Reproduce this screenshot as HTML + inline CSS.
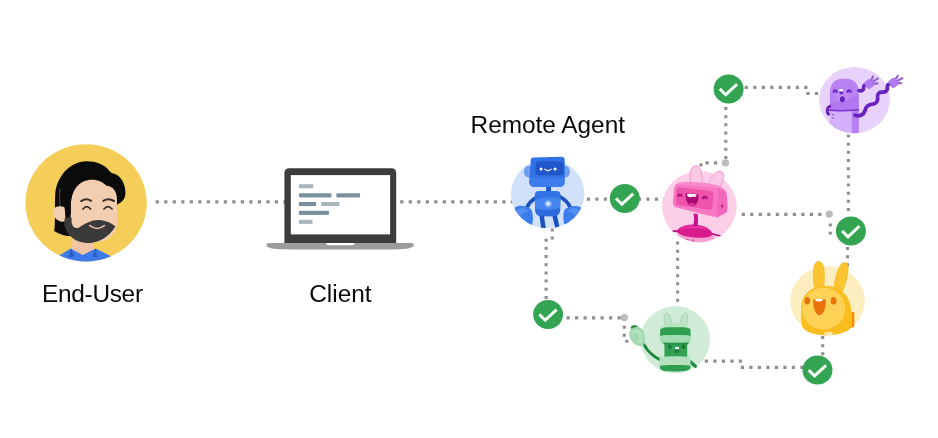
<!DOCTYPE html>
<html lang="en">
<head>
<meta charset="utf-8">
<title>A2A – End-User, Client, Remote Agent</title>
<style>
  html, body { margin: 0; padding: 0; background: #ffffff; }
  body { width: 938px; height: 438px; overflow: hidden; }
  svg { display: block; }
  .lbl { font-family: "Liberation Sans", sans-serif; font-size: 24.4px; fill: #0a0a0a; }
  #labels { filter: grayscale(1); }
  .dot { fill: none; stroke: #8f8f8f; }
  .h { stroke-width: 3.2; }
  .v { stroke-width: 3.1; }
  .h { stroke-dasharray: 3.2 5.31; }
  .v { stroke-dasharray: 3 5.17; }
  .node { fill: #bdbdbd; }
</style>
</head>
<body>
<svg width="938" height="438" viewBox="0 0 938 438">
  <defs>
    <filter id="soft" x="0" y="0" width="938" height="438" filterUnits="userSpaceOnUse" color-interpolation-filters="sRGB">
      <feGaussianBlur stdDeviation="0.32"/>
    </filter>
  </defs>
  <rect width="938" height="438" fill="#ffffff"/>

  <g id="art" filter="url(#soft)">
  <!-- ============ CONNECTORS ============ -->
  <g id="connectors">
    <!-- user -> client -->
    <path class="dot h" d="M155.7 201.8H287"/>
    <!-- client -> remote agent -->
    <path class="dot h" d="M400.2 201.8H514"/>
    <!-- remote agent -> pink -->
    <path class="dot h" d="M586.8 199.1H664"/>
    <!-- remote agent down to check -->
    <path class="dot v" d="M552.3 228.4V240"/>
    <path class="dot v" d="M546.1 238.7V302"/>
    <!-- check -> green -->
    <path class="dot h" d="M566.5 317.8H622"/>
    <path class="dot v" d="M624.3 325.7V337"/>
    <rect x="625.2" y="339.7" width="3.2" height="3" fill="#8f8f8f"/>
    <!-- top check -> purple -->
    <path class="dot h" d="M744.7 87.4H808"/>
    <path class="dot h" d="M806.4 93.5H820"/>
    <!-- top check down to pink -->
    <path class="dot v" d="M725.8 107V160"/>
    <path class="dot h" d="M717.2 162.9H704"/>
    <rect x="699.3" y="163.4" width="3.2" height="3" fill="#8f8f8f"/>
    <!-- pink -> right node -->
    <path class="dot h" d="M741.7 214.3H823"/>
    <path class="dot v" d="M830.3 223.6V236"/>
    <!-- purple down to check -->
    <path class="dot v" d="M848.4 134.5V214"/>
    <!-- check down to yellow -->
    <path class="dot v" d="M847.5 247V267"/>
    <!-- pink down to green -->
    <path class="dot v" d="M677.6 241.5V303"/>
    <!-- green -> bottom check -->
    <path class="dot h" d="M704.8 361.2H743"/>
    <path class="dot h" d="M740.8 367.4H805"/>
    <!-- yellow down to bottom check -->
    <path class="dot v" d="M822.7 336V357"/>
    <!-- junction nodes -->
    <ellipse class="node" cx="624.3" cy="317.6" rx="3.7" ry="3.6"/>
    <ellipse class="node" cx="725.5" cy="162.9" rx="3.7" ry="3.6"/>
    <ellipse class="node" cx="829.2" cy="214.1" rx="3.7" ry="3.6"/>
  </g>

  <!-- ============ CHECK MARKS ============ -->
  <defs>
    <g id="check">
      <ellipse cx="0" cy="0" rx="15" ry="14.5" fill="#32a452"/>
      <path d="M-8.8 0L-2.9 5.8L8.5 -4.8" fill="none" stroke="#f6fff6" stroke-width="3"/>
    </g>
  </defs>
  <use href="#check" x="728.6" y="88.9"/>
  <use href="#check" x="624.8" y="198.4"/>
  <use href="#check" x="850.9" y="231"/>
  <use href="#check" x="548.1" y="314.4"/>
  <use href="#check" x="817.5" y="370.1"/>

  <!-- ============ LABELS ============ -->
  <g id="labels">
  <text class="lbl" x="42.1" y="302" letter-spacing="-0.3">End-User</text>
  <text class="lbl" x="309.2" y="301.8" letter-spacing="0">Client</text>
  <text class="lbl" x="470.6" y="132.7" letter-spacing="-0.02">Remote Agent</text>
  </g>

  <!-- ============ END USER ============ -->
  <g id="user">
    <clipPath id="uclip"><ellipse cx="86.1" cy="202.9" rx="60.7" ry="58.6"/></clipPath>
    <ellipse cx="86.1" cy="202.9" rx="60.7" ry="58.6" fill="#f5ce5a"/>
    <g clip-path="url(#uclip)">
      <!-- shirt -->
      <path d="M55 263L59.2 255.4L70.8 248.4L82.7 254.8L95.5 248.4L111.2 256.2L115 263Z" fill="#3c7be9"/>
      <path d="M70.8 248.6L74.6 256.2L69 257.4Z" fill="#2a5cc4"/>
      <path d="M95.5 248.6L92.4 256.4L97.4 257.4Z" fill="#2a5cc4"/>
      <!-- neck -->
      <path d="M72.6 234H94V249.2L82.7 254.8L72 249Z" fill="#f0c5a6"/>
      <!-- hair back -->
      <path d="M54.2 231.4C55.6 226 54.6 205 55.2 195C56 178 69 161.2 86.4 161.2C96 161.2 104 164.4 108.4 169.7C110 171.6 111 172.8 112.4 173.2C119.4 174 126 183 125.4 194C125 198.6 122.6 201.6 119.4 203.2L70 236C65 236 59 234 55.3 231.5Z" fill="#0b0b0b"/>
      <!-- face -->
      <path d="M70.6 206C70.2 190 80 179.8 92 179.8C98.6 179.8 103 182.4 106.6 185.8C112 186 117 190.4 117 200V222C117 234 108 242 96 242C82 242 70.6 234 70.6 222Z" fill="#f3cdb0"/>
      <!-- hair front lock over left side -->
      <path d="M58 204C58 190 64 182 74 178L80 182C74 188 71 196 70.8 206V214L64 221Z" fill="#0b0b0b"/>
      <path d="M59.9 188.5C59.5 195 59.6 201 60 206" fill="none" stroke="#8a8f94" stroke-width="0.55"/>
      <!-- ear -->
      <path d="M59.8 206.3C55.2 206.2 52.2 209.6 52.7 213C53.4 216.8 56.4 220 60.4 221.4C62.4 222 64.2 221.8 65.3 221C65.5 216 65.1 211 64.4 207.2C63 206.6 61.4 206.3 59.8 206.3Z" fill="#f3cdb0"/>
      <!-- eyebrows -->
      <path d="M81.2 201.2Q86 197.6 91 200.8" fill="none" stroke="#35302c" stroke-width="2.1" stroke-linecap="round"/>
      <path d="M103.4 200.8Q108.6 197.6 114 201" fill="none" stroke="#35302c" stroke-width="2.1" stroke-linecap="round"/>
      <!-- eyes -->
      <path d="M83 209Q86.8 204.4 90.6 209" fill="none" stroke="#35302c" stroke-width="1.7" stroke-linecap="round"/>
      <path d="M104 209Q107.8 204.4 112 209" fill="none" stroke="#35302c" stroke-width="1.7" stroke-linecap="round"/>
      <!-- beard -->
      <path d="M64.6 218.4C66.4 217 69.4 216.8 71.6 217.8V222C72 227.2 76 229.4 79.6 227.2C85 223.4 92 220 98 220C104 220 110.6 222.4 115.4 226.4C112 231.8 107.4 236.8 100.4 240.2C95 242.8 88 243.6 83 242.6C75 241 67 236 64.2 225Z" fill="#3a3a3a"/>
      <!-- smile -->
      <path d="M89.6 225.4Q97 231.6 104.6 225.4" fill="none" stroke="#f1b9b0" stroke-width="1.4" stroke-linecap="round"/>
    </g>
  </g>
  <!-- ============ CLIENT LAPTOP ============ -->
  <g id="laptop">
    <path d="M284.4 243.4V173.2Q284.4 168.2 289.4 168.2H391.2Q396.2 168.2 396.2 173.2V243.4Z" fill="#3c3c3c"/>
    <rect x="290.8" y="175.1" width="99.3" height="59.3" fill="#ffffff"/>
    <path d="M266.4 245.2C266.4 243.8 267.4 243 269 243H411.2C412.8 243 413.8 243.8 413.8 245.2C413.8 247 410 248.4 404 248.9C399 249.3 394 249.4 390 249.4H290C286 249.4 281 249.3 276 248.9C270 248.4 266.4 247 266.4 245.2Z" fill="#9c9c9c"/>
    <path d="M326.2 243H354.7Q354.7 245.2 351.5 245.2H329.4Q326.2 245.2 326.2 243Z" fill="#ffffff"/>
    <rect x="299" y="184.2" width="14.2" height="4.1" fill="#a9b5ba"/>
    <rect x="299" y="193.3" width="32.4" height="4.1" fill="#78909c"/>
    <rect x="336.4" y="193.3" width="23.6" height="4.1" fill="#78909c"/>
    <rect x="299" y="202" width="17.1" height="4.1" fill="#78909c"/>
    <rect x="321.2" y="202" width="18.2" height="4.1" fill="#a9b5ba"/>
    <rect x="299" y="210.8" width="29.9" height="4.1" fill="#78909c"/>
    <rect x="299" y="219.8" width="13.5" height="4.1" fill="#a9b5ba"/>
  </g>
  <!-- ============ BLUE ROBOT ============ -->
  <g id="blue">
    <clipPath id="bclip"><ellipse cx="547.7" cy="193.7" rx="36.8" ry="34.6"/></clipPath>
    <radialGradient id="bglow" cx="0.5" cy="0.5" r="0.5">
      <stop offset="0" stop-color="#ffffff"/>
      <stop offset="0.35" stop-color="#cfe0ff" stop-opacity="0.85"/>
      <stop offset="1" stop-color="#5a93f2" stop-opacity="0"/>
    </radialGradient>
    <ellipse cx="547.7" cy="193.7" rx="36.8" ry="34.6" fill="#d2e1fb"/>
    <g clip-path="url(#bclip)">
      <!-- arms -->
      <path d="M536.4 197.6C531.4 200 528.4 203.6 526.4 208.4" fill="none" stroke="#1c51bd" stroke-width="3.8" stroke-linecap="round"/>
      <path d="M559.6 196.6C564.6 199 568.4 203 570.6 208" fill="none" stroke="#1c51bd" stroke-width="3.8" stroke-linecap="round"/>
      <!-- hands -->
      <path d="M515 207.5C519 204.6 527.5 205.6 531.2 209.5C533.5 214 533.4 221 531.5 226.5L522 232L512 215Z" fill="#3b7dea"/>
      <path d="M580.8 207.5C576.5 204.8 568 205.8 564.6 209.8C562.6 214 563.2 221 564.8 226.5L574 232L584 215Z" fill="#3b7dea"/>
      <path d="M517 209C521 207.5 526 208.5 528.5 211C524 212 520.5 214.5 518.5 218Z" fill="#5f97f3" opacity="0.7"/>
      <path d="M578.6 209C574.6 207.5 569.6 208.5 567.4 211C571.5 212 575 214.5 577 218Z" fill="#5f97f3" opacity="0.7"/>
      <!-- legs -->
      <path d="M541.4 214L543.6 229" fill="none" stroke="#1c51bd" stroke-width="4.5"/>
      <path d="M554.2 214L557.8 229" fill="none" stroke="#1c51bd" stroke-width="4.5"/>
    </g>
    <!-- neck -->
    <rect x="546.1" y="185" width="4.9" height="7.5" fill="#1f57c6"/>
    <!-- body -->
    <path d="M538.6 191.1H556.6C559.4 191.1 560.6 193.1 560.6 196L560.2 209.5C560 213.8 557.6 216.2 553.5 216.2H541.6C537.6 216.2 535.3 213.8 535.1 209.5L534.6 196C534.6 193.1 536 191.1 538.6 191.1Z" fill="#3273e6"/>
    <path d="M534.8 200C543 196.5 552 196.5 560.5 198.5L560.2 207.5C552 210.5 543 210 535.1 208.5Z" fill="#4a8af0" opacity="0.75"/>
    <path d="M535.1 209.5C543 211 552 211 560.2 208.5V209.5C560 213.8 557.6 216.2 553.5 216.2H541.6C537.6 216.2 535.3 213.8 535.1 209.5Z" fill="#2b66d8" opacity="0.8"/>
    <ellipse cx="548.2" cy="203.8" rx="5.2" ry="5" fill="url(#bglow)"/>
    <!-- ears -->
    <ellipse cx="528.6" cy="171.6" rx="4.8" ry="5.8" fill="#6f9df0"/>
    <ellipse cx="565.8" cy="171.6" rx="4.2" ry="5.8" fill="#6f9df0"/>
    <!-- head -->
    <path d="M533.6 157.6L561.6 156.7C563.6 156.6 564.6 157.8 564.7 159.6L564.6 182.6C564.4 185.6 562.6 187 559.8 187H534.4C531.4 187 529.6 185.6 529.4 182.6L530.7 160.4C530.8 158.6 531.8 157.7 533.6 157.6Z" fill="#3071e5"/>
    <path d="M529.5 177C541 179 554 179 564.6 177.4L564.6 182.6C564.4 185.6 562.6 187 559.8 187H534.4C531.4 187 529.6 185.6 529.4 182.6Z" fill="#3d7eeb"/>
    <rect x="535.6" y="161.6" width="28.4" height="13.6" rx="3.4" ry="3.4" fill="#2158c9"/>
    <ellipse cx="541.1" cy="169" rx="1.55" ry="1.5" fill="#ffffff"/>
    <ellipse cx="555.1" cy="169" rx="1.55" ry="1.5" fill="#ffffff"/>
    <path d="M544.6 169.2Q547.9 172 551.2 169.2" fill="none" stroke="#ffffff" stroke-width="1.1" stroke-linecap="round"/>
  </g>
  <!-- ============ PINK ROBOT ============ -->
  <g id="pink">
    <clipPath id="pclip"><ellipse cx="699.4" cy="206.6" rx="37.3" ry="35.6"/></clipPath>
    <ellipse cx="699.4" cy="206.6" rx="37.3" ry="35.6" fill="#fccee7"/>
    <!-- ears -->
    <path d="M691.2 186C689.4 178 689.6 169.5 693.2 166.6C696.6 164 700 167 701.2 172C702.2 177 702.2 182 701.8 186.5Z" fill="#fbc9e5" stroke="#f48cc8" stroke-width="0.9"/>
    <path d="M707.6 187C709.4 180 713.4 173.6 717.6 171.6C721.4 170 724 172.6 723.6 176.6C722.8 181.6 720.6 186.6 718.2 190.5Z" fill="#fbc9e5" stroke="#f48cc8" stroke-width="0.9"/>
    <g clip-path="url(#pclip)">
      <!-- base shadow band -->
      <path d="M676 234.5C680 240.5 690 243.5 699 243.5C707 243.5 712 241.5 714.5 237.5L712 234Z" fill="#f59fd3"/>
      <ellipse cx="687.6" cy="240" rx="1.2" ry="0.9" fill="#e0409f"/>
      <ellipse cx="692.8" cy="240.5" rx="1.2" ry="0.9" fill="#e0409f"/>
      <!-- base arms -->
      <path d="M679 230.8L672.2 231.4" fill="none" stroke="#b5127f" stroke-width="1.8" stroke-linecap="round"/>
      <path d="M711 233.6L720.6 236" fill="none" stroke="#b5127f" stroke-width="1.8" stroke-linecap="round"/>
      <!-- base -->
      <path d="M676.6 231.6C678.6 226.6 686 224.2 694 224.4C702 224.6 709.6 227.6 712.4 233.2C712.8 236.4 707 238.2 698 237.8C688 237.4 678.6 235.4 676.6 231.6Z" fill="#d81b8c"/>
      <path d="M679 229.4C682.6 226 689.6 225 696 225.4C701.6 225.8 706.6 227.4 709.6 230.2C703 228.6 690 227.4 679 229.4Z" fill="#ea3aa3" opacity="0.8"/>
    </g>
    <!-- neck -->
    <path d="M693.4 213.5C694.6 218 694.2 222 693 226.2L697.4 226.4C698.2 222 698.2 218 697.6 214Z" fill="#c2158a"/>
    <!-- head top face -->
    <path d="M674.4 187.4C675 184 678 182.6 682 182.3C694 181.4 708 182.6 718 185.4C722 186.6 725.4 189.4 726.8 193L718 190.4L676 186.4Z" fill="#f989ca"/>
    <!-- head side -->
    <path d="M717.9 188.6Q718.0 187.6 718.9 188.1L724.2 191.1Q726.8 192.6 726.9 195.6L727.5 209.0Q727.6 212.0 724.8 213.6L716.7 217.6Q715.8 218 715.9 217Z" fill="#f267b8"/>
    <ellipse cx="722.2" cy="206.2" rx="0.9" ry="1.6" fill="#b5127f"/>
    <!-- head front -->
    <path d="M674.2 188.5Q674.5 184.5 678.5 184.8L716.4 187.7Q718.9 187.9 718.7 190.4L716.5 214.4Q716.2 217.4 713.3 216.7L676.5 207.5Q672.6 206.6 672.9 202.6Z" fill="#f777c2"/>
    <!-- screen -->
    <path d="M676.5 190.6Q676.8 187.2 680.2 187.6L710.2 191.0Q713.6 191.4 713.3 194.8L712.5 206.8Q712.2 210.2 708.8 209.7L678.8 205.1Q675.4 204.6 675.7 201.2Z" fill="#ee54ab"/>
    <!-- eyes -->
    <path d="M678.4 195.8Q679.9 193.2 681.6 195.6" fill="none" stroke="#b5127f" stroke-width="2.5" stroke-linecap="round"/>
    <path d="M703 198Q704.7 195.4 706.6 198" fill="none" stroke="#b5127f" stroke-width="2.5" stroke-linecap="round"/>
    <!-- mouth -->
    <path d="M685.4 193.6C689.4 192.8 694.6 193.2 698.6 194.8C698.6 200.6 696.6 206.2 692.2 206.2C688 206.2 685.4 200.4 685.4 193.6Z" fill="#ad0a74"/>
    <path d="M687 194C689.8 193.5 693.6 193.7 696.4 194.6L696.2 196.4C695 197 693.6 197 692.6 196.6C691.4 197.4 689.6 197.4 688.2 196.8C687.6 196.4 687.2 196 687 195.6Z" fill="#ffffff"/>
    <path d="M688.8 203.8C690.4 202.4 693.6 202.6 695 204.2C694.2 205.6 693.2 206.2 692.2 206.2C690.8 206.2 689.6 205.2 688.8 203.8Z" fill="#d63a98"/>
  </g>
  <!-- ============ PURPLE ============ -->
  <g id="purple">
    <clipPath id="vclip"><ellipse cx="854.5" cy="100.1" rx="35.4" ry="33.1"/></clipPath>
    <ellipse cx="854.5" cy="100.1" rx="35.4" ry="33.1" fill="#e7d2fc"/>
    <g clip-path="url(#vclip)">
      <!-- lower body -->
      <rect x="829.8" y="108" width="29" height="30" fill="#d3b0f9"/>
      <rect x="851.8" y="108" width="7" height="30" fill="#b780f3"/>
      <!-- upper body -->
      <path d="M829.9 110.4V92.4C829.9 83.6 835 78.8 842 78.8H846.6C853.6 78.8 858.6 83.6 858.6 92.4V111Z" fill="#b982f4"/>
      <path d="M829.8 104C838 103 850 100 858.8 94V111L829.8 110.4Z" fill="#ae74f0" opacity="0.8"/>
      <!-- belt / arm -->
      <path d="M828.4 110.2C838 111 850 110.6 858.6 109.8" fill="none" stroke="#7a2fd0" stroke-width="1.6"/>
      <path d="M829.8 106.4C827 107.6 826.2 111.4 828.6 114.2" fill="none" stroke="#6a22bf" stroke-width="3" stroke-linecap="round"/>
      <ellipse cx="833" cy="114.8" rx="0.7" ry="0.8" fill="#6a22bf"/>
      <ellipse cx="833" cy="118" rx="0.7" ry="0.8" fill="#6a22bf"/>
    </g>
    <!-- face -->
    <ellipse cx="842" cy="96.4" rx="6.4" ry="5.6" fill="#c596f7" opacity="0.55"/>
    <path d="M833.6 91.8Q834.9 88.8 836.6 91.8" fill="none" stroke="#6a22bf" stroke-width="2.1" stroke-linecap="round"/>
    <path d="M847.6 91.8Q849.1 88.8 850.8 91.8" fill="none" stroke="#6a22bf" stroke-width="2.1" stroke-linecap="round"/>
    <ellipse cx="841.4" cy="92.7" rx="2" ry="1.6" fill="#6a22bf"/>
    <ellipse cx="841.2" cy="90.2" rx="2.2" ry="1.2" fill="#ffffff"/>
    <ellipse cx="842.4" cy="99.2" rx="2.5" ry="3" fill="#6a22bf"/>
    <!-- cable 1 -->
    <path d="M859 90.6C862.4 91.6 863.8 89.4 863.6 87.4C863.4 85.2 865.4 84 868 84.4" fill="none" stroke="#6a22bf" stroke-width="3.6" stroke-linecap="round"/>
    <!-- plug 1 -->
    <path d="M870.6 81.4L873 76.6M872 82.4L877.8 78.4M872 84.2L877.4 83.4" fill="none" stroke="#9565d8" stroke-width="2.3" stroke-linecap="round"/>
    <rect x="-4" y="-4.3" width="8" height="8.6" rx="2.4" transform="translate(869.2 84) rotate(-35)" fill="#b07af0"/>
    <!-- cable 2 -->
    <path d="M855 115.2C860 116.8 863.8 114.6 865 110.6C866 106.4 868.6 104.4 872.6 104.2C876.6 103.8 878.2 100.6 877.6 97C877.2 93.4 879.6 91.8 883 92.2C886.4 92.4 887.8 89.8 887.4 87C887.2 85 888.8 84 890.6 83.8" fill="none" stroke="#6a22bf" stroke-width="3.8" stroke-linecap="round"/>
    <!-- plug 2 -->
    <path d="M894.8 80.2L897.8 75.8M896.2 81.4L902.2 78.2M896.2 83.2L901 83.2" fill="none" stroke="#9565d8" stroke-width="2.3" stroke-linecap="round"/>
    <rect x="-4.1" y="-4.4" width="8.2" height="8.8" rx="2.4" transform="translate(893.4 82.8) rotate(-35)" fill="#b07af0"/>
  </g>
  <!-- ============ YELLOW ============ -->
  <g id="yellow">
    <clipPath id="yclip"><ellipse cx="827.6" cy="300.8" rx="37.3" ry="34.7"/></clipPath>
    <ellipse cx="827.6" cy="300.8" rx="37.3" ry="34.7" fill="#fdeec0"/>
    <!-- ears -->
    <path d="M815 289C813 281 812.6 269.6 814.8 264.4C816.6 260.4 821 260.6 822.8 264.8C824.8 270 824.6 281 823.4 289Z" fill="#fbc531" stroke="#f6b81c" stroke-width="0.8"/>
    <path d="M834 289.6C834.6 281 837 270 840.6 265C843.2 261.4 847.2 262 848 266C848.8 271.6 845.8 283 842.2 291.6Z" fill="#fbc531" stroke="#f6b81c" stroke-width="0.8"/>
    <!-- backpack -->
    <path d="M850 312.4L853 311.8C854 311.8 854.4 312.4 854.4 313.4V325.6C854.4 326.8 853.8 327.4 852.8 327.6L849 328Z" fill="#ef9207"/>
    <!-- body -->
    <path d="M801.2 309C801 295 811 286 824.6 286C838 286 848 293 850.4 305C852 313 852.4 321 851.6 327C848 332 838 335.2 826 335.2C814 335.2 805 332 802 326C801 320 801.2 314 801.2 309Z" fill="#f9bd1e"/>
    <!-- face highlight -->
    <ellipse cx="823.6" cy="308.6" rx="21.6" ry="21" fill="#fdd257"/>
    <path d="M803 322C810 329.5 824 331.5 836 328C842 326 848 321 850.6 316C852 320 852 324 851.6 327C848 332 838 335.2 826 335.2C814 335.2 805 332 802 326Z" fill="#f9bd1e" opacity="0.85"/>
    <!-- bottom highlight -->
    <path d="M824.4 332H832.6V335.4H824.4Z" fill="#fde9b6" opacity="0.9"/>
    <!-- eyes -->
    <ellipse cx="807.3" cy="300.8" rx="2.8" ry="3.8" fill="#e8710a"/>
    <ellipse cx="833.6" cy="300.8" rx="2.9" ry="3.8" fill="#e8710a"/>
    <!-- mouth -->
    <path d="M813.2 299.6C817 298.6 822 298.6 825.8 299.6C826 306 824.2 315.2 819.4 315.2C814.8 315.2 812.8 306 813.2 299.6Z" fill="#e8710a"/>
    <path d="M815.2 299.2C817.6 298.7 820.6 298.7 822.8 299.2L822.6 300.8C820.6 301.6 817.6 301.6 815.4 300.8Z" fill="#ffffff"/>
  </g>
  <!-- ============ GREEN ============ -->
  <g id="green">
    <clipPath id="gclip"><ellipse cx="675.3" cy="339.7" rx="34.8" ry="33.6"/></clipPath>
    <ellipse cx="675.3" cy="339.7" rx="34.8" ry="33.6" fill="#d0ebd7"/>
    <!-- arm left -->
    <path d="M644 344.6C647.4 351 652.6 356.2 660 359.6" fill="none" stroke="#1f8a3e" stroke-width="3" stroke-linecap="round"/>
    <!-- arm right -->
    <path d="M690 361.6L695.4 366.2" fill="none" stroke="#1f8a3e" stroke-width="3.3" stroke-linecap="round"/>
    <!-- hand -->
    <path d="M632 327.6C633.4 326 635.6 326 636.8 327.6" fill="none" stroke="#1f8a3e" stroke-width="2.6" stroke-linecap="round"/>
    <path d="M630 330.6C632 326.6 639.6 325.6 642.6 329.6C645.2 333.6 645.6 341 643.8 345.2C641 346.8 636.4 346 633.4 343C630 339.4 628.2 334.4 630 330.6Z" fill="#a2d6af"/>
    <path d="M631.6 331.6C633.6 328.6 638.6 328.2 641 331.2C643 334.4 643.4 339.6 642 343C639.6 344 636.4 343.2 634.2 340.8C631.6 338 630.4 334.2 631.6 331.6Z" fill="#b4e3bf"/>
    <ellipse cx="636" cy="337" rx="3" ry="4.2" transform="rotate(-18 636 337)" fill="#a4d9b1"/>
    <!-- ears -->
    <path d="M665.6 325.6C663.6 320.6 663.4 315.4 665.6 313.4C667.8 311.8 671 316 672.2 324.6Z" fill="#bee4c8" stroke="#9fd0ab" stroke-width="0.8"/>
    <path d="M679.6 324.6C681 316 684 311.6 686.2 313.4C688.4 315.4 688 320.6 686 325.6Z" fill="#bee4c8" stroke="#9fd0ab" stroke-width="0.8"/>
    <!-- cap -->
    <path d="M660.6 330C661.4 325.4 667 322.8 675.4 322.8C683.8 322.8 689.6 325.4 690.4 330V341.6H660.6Z" fill="#b4e4c0"/>
    <path d="M660.2 329.6C662 327 668 327.2 675.4 327.2C683 327.2 689 327 690.5 329.6L690.7 336.2C685 335 666 335 660 336.2Z" fill="#2fa04f"/>
    <path d="M660 335.9C666 334.8 685 334.8 690.7 335.9L690.8 341.8C685 343.8 666 343.8 659.8 341.8Z" fill="#a4dcb2"/>
    <!-- body -->
    <rect x="664.4" y="342.6" width="22.8" height="16" fill="#33a353"/>
    <path d="M661.6 342C668 344 683 344 689.6 342L687.4 344.6H664.6Z" fill="#1f8a3e"/>
    <ellipse cx="669.8" cy="346.9" rx="1.9" ry="2.1" fill="#1b7a38"/>
    <ellipse cx="683.4" cy="346.9" rx="1.9" ry="2.1" fill="#1b7a38"/>
    <ellipse cx="677" cy="350" rx="2.3" ry="3" fill="#1b7a38"/>
    <rect x="675" y="347" width="4" height="2.2" rx="0.6" fill="#ffffff"/>
    <!-- bottom bands -->
    <path d="M659.6 357.4C666 356 685 356 690.6 357.4V366.4H659.6Z" fill="#b4e2be"/>
    <path d="M659.8 365.8C666 364.8 685 364.8 690.4 365.8V367.6C690.4 369.6 688 370.6 685 371C680 371.6 670 371.6 665 371C662 370.6 659.8 369.6 659.8 367.6Z" fill="#2e9e4e"/>
  </g>
  </g>
</svg>
</body>
</html>
